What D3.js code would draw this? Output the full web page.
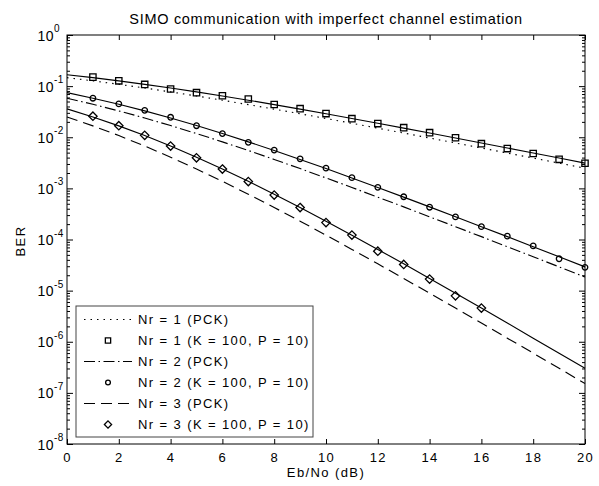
<!DOCTYPE html>
<html>
<head>
<meta charset="utf-8">
<script src="https://cdn.jsdelivr.net/npm/d3@7"></script>
<style>
  html, body { margin: 0; padding: 0; background: #fff; }
  svg { display: block; font-family: "Liberation Sans", Arial, Helvetica, sans-serif; }
  .lbl { font-size: 13px; letter-spacing: 1.4px; fill: #000; }
  .ylbl { font-size: 14px; letter-spacing: 0.4px; fill: #000; }
</style>
</head>
<body>
<svg id="chart" width="599" height="486"></svg>
<script>
// ---------------- data ----------------
const ebno = [0,1,2,3,4,5,6,7,8,9,10,11,12,13,14,15,16,17,18,19,20];
const simEbno12 = [1,2,3,4,5,6,7,8,9,10,11,12,13,14,15,16,17,18,19,20];
const simEbno3 = [1,2,3,4,5,6,7,8,9,10,11,12,13,14,15,16];

// perfect channel knowledge (PCK) curves
const pck1 = [0.14645,0.12674,0.10849,0.09191,0.07714,0.06418,0.05300,0.04348,0.03546,0.02879,0.02327,0.01875,0.01506,0.01208,0.00966,0.00772,0.00617,0.00491,0.00392,0.00312,0.00248];
const pck2 = [0.05806,0.04412,0.03276,0.02379,0.01693,0.01183,0.008129,0.005507,0.003683,0.002439,0.001599,0.0010415,0.0006736,0.0004343,0.0002781,0.0001779,0.0001137,7.209e-5,4.598e-5,2.914e-5,1.842e-5];
const pck3 = [0.024914,0.016684,0.010781,0.0067327,0.0040758,0.0023956,0.0013730,7.6931e-4,4.2249e-4,2.2844e-4,1.2164e-4,6.4078e-5,3.3389e-5,1.7310e-5,8.8842e-6,4.5478e-6,2.3272e-6,1.1750e-6,5.988e-7,3.023e-7,1.520e-7];

// imperfect estimation (K = 100, P = 10) solid curves
const est1 = [0.1673,0.14645,0.12674,0.10849,0.09191,0.07714,0.06418,0.05300,0.04348,0.03546,0.02879,0.02327,0.01875,0.01506,0.01208,0.00966,0.00772,0.00617,0.00491,0.00392,0.00312];
const est2 = [0.07461,0.05806,0.04412,0.03276,0.02379,0.01693,0.01183,0.008129,0.005507,0.003683,0.002439,0.001599,0.0010415,0.0006736,0.0004343,0.0002781,0.0001779,0.0001137,7.209e-5,4.598e-5,2.914e-5];
const est3 = [0.03586,0.024914,0.016684,0.010781,0.0067327,0.0040758,0.0023956,0.0013730,7.6931e-4,4.2249e-4,2.2844e-4,1.2164e-4,6.4078e-5,3.3389e-5,1.7310e-5,8.8842e-6,4.5478e-6,2.3272e-6,1.1750e-6,5.988e-7,3.023e-7];

// simulated markers
const sim1 = [0.150,0.127,0.108,0.0880,0.0745,0.0650,0.0560,0.0436,0.0362,0.0290,0.0231,0.0185,0.0154,0.0123,0.0098,0.0075,0.0060,0.0048,0.0037,0.0031];
const sim2 = [0.0580,0.0448,0.0336,0.0246,0.0168,0.0118,0.00795,0.00560,0.00378,0.00248,0.00162,0.00105,0.000686,0.000428,0.000276,0.000178,0.000116,7.5e-5,4.2e-5,2.85e-5];
const sim3 = [0.0258,0.0168,0.0109,0.00672,0.00396,0.00239,0.00136,0.000740,0.000422,0.000214,0.000122,5.9e-5,3.25e-5,1.68e-5,7.9e-6,4.55e-6];

const xTicks = [0,2,4,6,8,10,12,14,16,18,20];
const yExps = [0,-1,-2,-3,-4,-5,-6,-7,-8];
const legendLabels = ["Nr = 1 (PCK)","Nr = 1 (K = 100, P = 10)","Nr = 2 (PCK)","Nr = 2 (K = 100, P = 10)","Nr = 3 (PCK)","Nr = 3 (K = 100, P = 10)"];
const titleText = "SIMO communication with imperfect channel estimation";
const xLabelText = "Eb/No (dB)";
const yLabelText = "BER";

// ---------------- layout ----------------
const L = 67, R = 585, T = 35, B = 444;
const svg = d3.select("#chart");
const x = d3.scaleLinear().domain([0, 20]).range([L, R]);
const y = d3.scaleLog().domain([1e-8, 1]).range([B, T]);

svg.append("rect").attr("width", 599).attr("height", 486).attr("fill", "#fff");

// minor ticks
const minors = [];
yExps.forEach(e => { if (e > -8) for (let k = 2; k <= 9; k++) minors.push(k * Math.pow(10, e - 1)); });
const majors = yExps.map(e => Math.pow(10, e));

function styleAxis(g) {
  g.select(".domain").remove();
  g.selectAll("line").attr("stroke", "#000").attr("stroke-width", 1);
}
svg.append("g").attr("transform", `translate(${L},0)`)
  .call(d3.axisLeft(y).tickValues(majors).tickSize(-6).tickFormat(""))
  .call(styleAxis);
svg.append("g").attr("transform", `translate(${L},0)`)
  .call(d3.axisLeft(y).tickValues(minors).tickSize(-3).tickFormat(""))
  .call(styleAxis);
svg.append("g").attr("transform", `translate(${R},0)`)
  .call(d3.axisRight(y).tickValues(majors).tickSize(-6).tickFormat(""))
  .call(styleAxis);
svg.append("g").attr("transform", `translate(${R},0)`)
  .call(d3.axisRight(y).tickValues(minors).tickSize(-3).tickFormat(""))
  .call(styleAxis);
const xb = svg.append("g").attr("transform", `translate(0,${B})`)
  .call(d3.axisBottom(x).tickValues(xTicks).tickSize(-5).tickPadding(8.5).tickFormat(d3.format("d")))
  .call(styleAxis);
xb.selectAll("text").attr("class", "lbl").attr("font-size", null).attr("font-family", null).attr("fill", "#000");
svg.append("g").attr("transform", `translate(0,${T})`)
  .call(d3.axisTop(x).tickValues(xTicks).tickSize(-5).tickFormat(""))
  .call(styleAxis);

// y tick labels 10^e
yExps.forEach(e => {
  const t = svg.append("text").attr("class", "ylbl").attr("x", 37.5).attr("y", y(Math.pow(10, e)) + 5.5);
  t.append("tspan").text("10");
  t.append("tspan").attr("dy", -8.5).attr("font-size", "10px").attr("letter-spacing", "0.6px").text(e === 0 ? "0" : "-" + Math.abs(e));
});

// frame
svg.append("rect").attr("x", L).attr("y", T).attr("width", R - L).attr("height", B - T)
  .attr("fill", "none").attr("stroke", "#000").attr("stroke-width", 1);

// ---------------- series ----------------
const line = d3.line().x(d => x(d[0])).y(d => y(d[1]));
const styles = {
  dot: "1.5,5",
  dashdot: "11,3.5,1.5,3.5",
  dash: "11,6"
};
function drawLine(xs, ys, dash) {
  svg.append("path").datum(xs.map((v, i) => [v, ys[i]]))
    .attr("d", line).attr("fill", "none").attr("stroke", "#000")
    .attr("stroke-width", 1.15).attr("stroke-dasharray", dash || null);
}
drawLine(ebno, pck1, styles.dot);
drawLine(ebno, pck2, styles.dashdot);
drawLine(ebno, pck3, styles.dash);
drawLine(ebno, est1, null);
drawLine(ebno, est2, null);
drawLine(ebno, est3, null);

const sq = d3.symbol().type(d3.symbolSquare).size(40)();
const ci = d3.symbol().type(d3.symbolCircle).size(24)();
function diamondPath(s) {
  return `M0,${-s}L${s},0L0,${s}L${-s},0Z`;
}
function drawMarkers(xs, ys, shape) {
  svg.append("g").selectAll("path").data(xs.map((v, i) => [v, ys[i]])).join("path")
    .attr("transform", d => `translate(${x(d[0])},${y(d[1])})`)
    .attr("d", shape).attr("fill", "none").attr("stroke", "#000").attr("stroke-width", 1.3);
}
drawMarkers(simEbno12, sim1, sq);
drawMarkers(simEbno12, sim2, ci);
drawMarkers(simEbno3, sim3, diamondPath(4.2));

// ---------------- legend ----------------
const lg = svg.append("g");
lg.append("rect").attr("x", 76).attr("y", 306).attr("width", 237).attr("height", 131)
  .attr("fill", "#fff").attr("stroke", "#444").attr("stroke-width", 1);
const legendKinds = [
  { dash: styles.dot }, { marker: d3.symbol().type(d3.symbolSquare).size(28)() },
  { dash: styles.dashdot }, { marker: d3.symbol().type(d3.symbolCircle).size(18)() },
  { dash: styles.dash }, { marker: diamondPath(3.6) }
];
const rowY = d3.scaleLinear().domain([0, 5]).range([319.5, 424.5]);
legendLabels.forEach((lab, i) => {
  const cy = rowY(i);
  const k = legendKinds[i];
  if (k.dash) {
    lg.append("line").attr("x1", 84).attr("x2", 132).attr("y1", cy).attr("y2", cy)
      .attr("stroke", "#000").attr("stroke-width", 1.15).attr("stroke-dasharray", k.dash);
  } else {
    lg.append("path").attr("transform", `translate(108,${cy})`).attr("d", k.marker)
      .attr("fill", "none").attr("stroke", "#000").attr("stroke-width", 1.3);
  }
  lg.append("text").attr("class", "lbl").attr("x", 138).attr("y", cy + 4.8).text(lab);
});

// ---------------- titles ----------------
svg.append("text").attr("x", 326).attr("y", 23.5).attr("text-anchor", "middle")
  .attr("font-size", "14.5px").attr("letter-spacing", "0.7px").attr("fill", "#000").text(titleText);
svg.append("text").attr("class", "lbl").attr("x", 326).attr("y", 476.5).attr("text-anchor", "middle").text(xLabelText);
svg.append("text").attr("class", "lbl").attr("transform", "translate(25,241) rotate(-90)")
  .attr("text-anchor", "middle").text(yLabelText);
</script>
</body>
</html>
